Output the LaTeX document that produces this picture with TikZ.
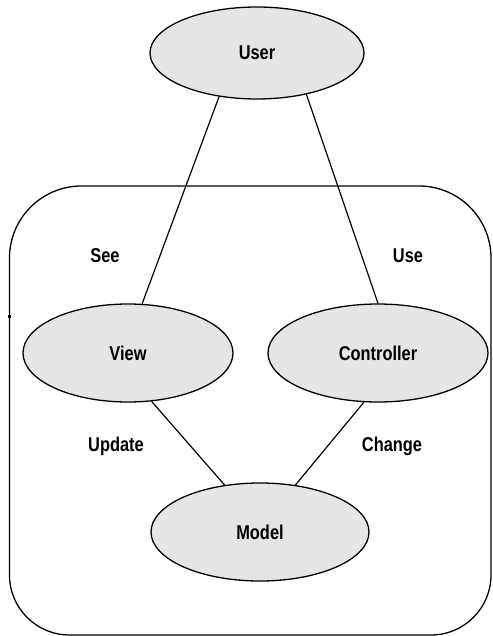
\documentclass[tikz,border=0pt]{standalone}
\usepackage{fontspec}
\setmainfont{Liberation Sans}[FakeStretch=0.82]
\usetikzlibrary{shapes.geometric}
\definecolor{ellfill}{RGB}{229,229,229}
\tikzset{
  actor/.style={ellipse, draw=black, fill=ellfill, line width=1.3pt, inner sep=0pt,
    font=\fontsize{20}{22}\selectfont\bfseries},
  lbl/.style={font=\fontsize{20}{22}\selectfont\bfseries, inner sep=0pt},
  link/.style={line width=1.2pt},
  frame/.style={line width=1.3pt}
}
\begin{document}
\begin{tikzpicture}[x=1pt,y=-1pt]
\useasboundingbox (0,0) rectangle (492,636);
% system boundary: rounded frame, wider corners at the top
\draw[frame] (9.5,258) arc[start angle=180, end angle=270, radius=72]
  -- (419,186) arc[start angle=270, end angle=360, radius=72]
  -- (491,575) arc[start angle=0, end angle=90, radius=60]
  -- (69.5,635) arc[start angle=90, end angle=180, radius=60]
  -- cycle;
\fill (8,314.5) rectangle (10.5,317.5);
% actors and components
\node[actor, minimum width=214pt, minimum height=92pt] (user) at (257,53) {User};
\node[actor, minimum width=210pt, minimum height=98pt] (view) at (128,353) {View};
\node[actor, minimum width=220pt, minimum height=98pt] (ctrl) at (378,353) {Controller};
\node[actor, minimum width=218pt, minimum height=98pt] (model) at (260,532) {Model};
% connectors
\draw[link] (user.229) -- (view.74);
\draw[link] (user.320) -- (ctrl.90);
\draw[link] (view.296) -- (model.127);
\draw[link] (ctrl.254) -- (model.53);
% labels
\node[lbl] (see) at (105,256) {See};
\node[lbl] (use) at (408,256) {Use};
\node[lbl] (upd) at (116,446) {Update};
\node[lbl] (chg) at (392,446) {Change};
\end{tikzpicture}
\end{document}
